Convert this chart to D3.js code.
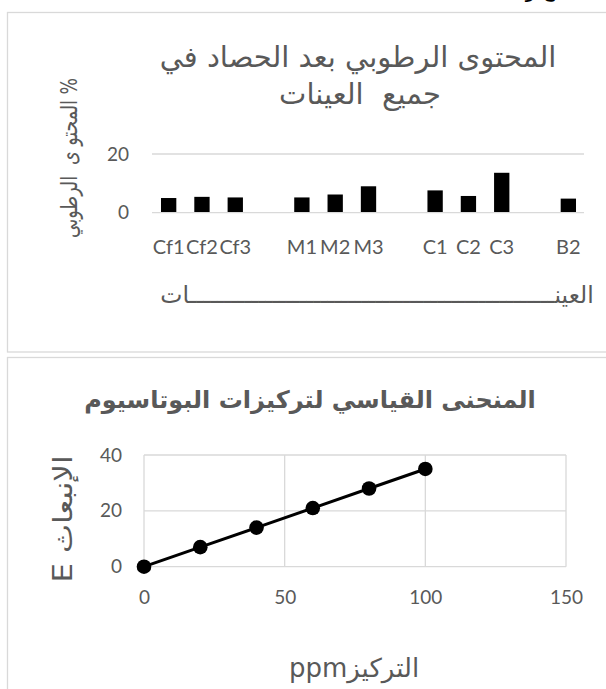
<!DOCTYPE html>
<html>
<head>
<meta charset="utf-8">
<script src="https://cdn.jsdelivr.net/npm/d3@7"></script>
<style>
  body { margin: 0; background: #fff; }
  svg { display: block; }
</style>
</head>
<body>
<svg id="fig" width="606" height="689"></svg>
<script>
// Moisture content after harvest, per sample (blank slots separate the groups)
const sampleLabels   = ["Cf1", "Cf2", "Cf3", "", "M1", "M2", "M3", "", "C1", "C2", "C3", "", "B2"];
const moistureValues = [5.0, 5.4, 5.2, null, 5.2, 6.2, 9.0, null, 7.6, 5.7, 13.6, null, 4.8];
const moistureTicks  = [0, 20];

// Potassium calibration curve
const concPpm       = [0, 20, 40, 60, 80, 100];
const emission      = [0, 7, 14, 21, 28, 35];
const concTicks     = [0, 50, 100, 150];
const emissionTicks = [0, 20, 40];

const svg = d3.select("#fig");
const textGrey = "#595959";
const gridGrey = "#d9d9d9";
const latin = "Lato, 'Open Sans', 'DejaVu Sans', sans-serif";
const arabic = "'DejaVu Sans', sans-serif";

// Running text of the page above the charts
svg.append("text")
  .attr("x", 590).attr("y", -3)
  .attr("direction", "rtl")
  .attr("font-family", arabic).attr("font-size", 20)
  .attr("fill", "#000")
  .text("النتائج والمناقشة");

// Chart frames
svg.append("rect").attr("x", 7.5).attr("y", 12.5).attr("width", 640).attr("height", 339.5)
  .attr("fill", "#fff").attr("stroke", gridGrey).attr("stroke-width", 1.3);
svg.append("rect").attr("x", 7.5).attr("y", 357.5).attr("width", 640).attr("height", 360)
  .attr("fill", "#fff").attr("stroke", gridGrey).attr("stroke-width", 1.3);

// ---------- Chart 1: bar chart ----------
const x1 = d3.scaleBand()
  .domain(d3.range(sampleLabels.length))
  .range([152, 585])
  .paddingInner(0.54)
  .paddingOuter(0.27);
const y1 = d3.scaleLinear().domain([0, 20]).range([212.7, 154]);

const g1 = svg.append("g");

// Value axis labels
g1.append("g").attr("transform", "translate(152,0)")
  .call(d3.axisLeft(y1).tickValues(moistureTicks).tickSize(0).tickPadding(23))
  .call(a => a.select(".domain").remove())
  .call(a => a.selectAll("text").attr("fill", textGrey).attr("font-family", latin).attr("font-size", 19));

// Horizontal gridline
g1.append("g").selectAll("line").data(moistureTicks.filter(t => t > 0)).join("line")
  .attr("x1", 152).attr("x2", 584)
  .attr("y1", d => y1(d)).attr("y2", d => y1(d))
  .attr("stroke", gridGrey).attr("stroke-width", 1.3);

// Bars
g1.append("g").selectAll("rect")
  .data(moistureValues.map((v, i) => ({ i, v })).filter(d => d.v !== null))
  .join("rect")
  .attr("x", d => x1(d.i))
  .attr("width", x1.bandwidth())
  .attr("y", d => y1(d.v))
  .attr("height", d => y1(0) - y1(d.v))
  .attr("fill", "#000");

// Category axis
g1.append("g").attr("transform", `translate(0,${y1(0)})`)
  .call(d3.axisBottom(x1).tickFormat(i => sampleLabels[i]).tickSize(0).tickPadding(27))
  .call(a => a.select(".domain").attr("stroke", gridGrey).attr("stroke-width", 1.3).attr("d", "M152,0H584"))
  .call(a => a.selectAll("text").attr("fill", textGrey).attr("font-family", latin).attr("font-size", 20));

// Title
const title1 = svg.append("text")
  .attr("text-anchor", "middle")
  .attr("font-family", arabic).attr("font-size", 29)
  .attr("fill", textGrey);
title1.append("tspan").attr("x", 358).attr("y", 67).text("المحتوى الرطوبي بعد الحصاد في");
title1.append("tspan").attr("x", 360).attr("y", 104).text("جميع\u00A0\u00A0العينات");

// Axis titles (logical order puts the percent sign at the top end)
svg.append("text")
  .attr("transform", "translate(77,158) rotate(-90)")
  .attr("text-anchor", "middle")
  .attr("font-family", arabic).attr("font-size", 23)
  .attr("textLength", 160).attr("lengthAdjust", "spacingAndGlyphs")
  .attr("fill", textGrey)
  .text("المحتو ى\u00A0\u00A0الرطوبي %");

svg.append("text")
  .attr("x", 377).attr("y", 303)
  .attr("text-anchor", "middle")
  .attr("font-family", arabic).attr("font-size", 23.5)
  .attr("fill", textGrey)
  .text("العينـــــــــــــــــــــــــــــــــــــــــــــــــــــات");

// ---------- Chart 2: calibration curve ----------
const x2 = d3.scaleLinear().domain([0, 150]).range([144, 566]);
const y2 = d3.scaleLinear().domain([0, 40]).range([566.7, 455]);
const g2 = svg.append("g");

// Gridlines
g2.append("g").selectAll("line").data(concTicks).join("line")
  .attr("x1", d => x2(d)).attr("x2", d => x2(d))
  .attr("y1", y2(40)).attr("y2", y2(0))
  .attr("stroke", gridGrey).attr("stroke-width", 1.3);
g2.append("g").selectAll("line").data(emissionTicks).join("line")
  .attr("x1", x2(0)).attr("x2", x2(150))
  .attr("y1", d => y2(d)).attr("y2", d => y2(d))
  .attr("stroke", gridGrey).attr("stroke-width", 1.3);

// Axis labels
g2.append("g").attr("transform", `translate(${x2(0)},0)`)
  .call(d3.axisLeft(y2).tickValues(emissionTicks).tickSize(0).tickPadding(22))
  .call(a => a.select(".domain").remove())
  .call(a => a.selectAll("text").attr("fill", textGrey).attr("font-family", latin).attr("font-size", 19));
g2.append("g").attr("transform", `translate(0,${y2(0)})`)
  .call(d3.axisBottom(x2).tickValues(concTicks).tickSize(0).tickPadding(24))
  .call(a => a.select(".domain").remove())
  .call(a => a.selectAll("text").attr("fill", textGrey).attr("font-family", latin).attr("font-size", 19));

// Line and markers
const pts = concPpm.map((c, i) => [c, emission[i]]);
g2.append("path")
  .datum(pts)
  .attr("d", d3.line().x(d => x2(d[0])).y(d => y2(d[1])))
  .attr("fill", "none").attr("stroke", "#000").attr("stroke-width", 3);
g2.append("g").selectAll("circle").data(pts).join("circle")
  .attr("cx", d => x2(d[0])).attr("cy", d => y2(d[1]))
  .attr("r", 7.3).attr("fill", "#000");

// Title
svg.append("text")
  .attr("x", 310).attr("y", 408)
  .attr("text-anchor", "middle")
  .attr("font-family", arabic).attr("font-size", 24).attr("font-weight", "bold")
  .attr("fill", textGrey)
  .text("المنحنى القياسي لتركيزات البوتاسيوم");

// Axis titles
svg.append("text")
  .attr("transform", "translate(72,519) rotate(-90)")
  .attr("text-anchor", "middle")
  .attr("font-family", arabic).attr("font-size", 26)
  .attr("textLength", 127).attr("lengthAdjust", "spacingAndGlyphs")
  .attr("fill", textGrey)
  .text("E الإنبعاث");

svg.append("text")
  .attr("x", 354).attr("y", 677)
  .attr("text-anchor", "middle")
  .attr("direction", "rtl")
  .attr("font-family", arabic).attr("font-size", 26)
  .attr("fill", textGrey)
  .text("التركيزppm");
</script>
</body>
</html>
